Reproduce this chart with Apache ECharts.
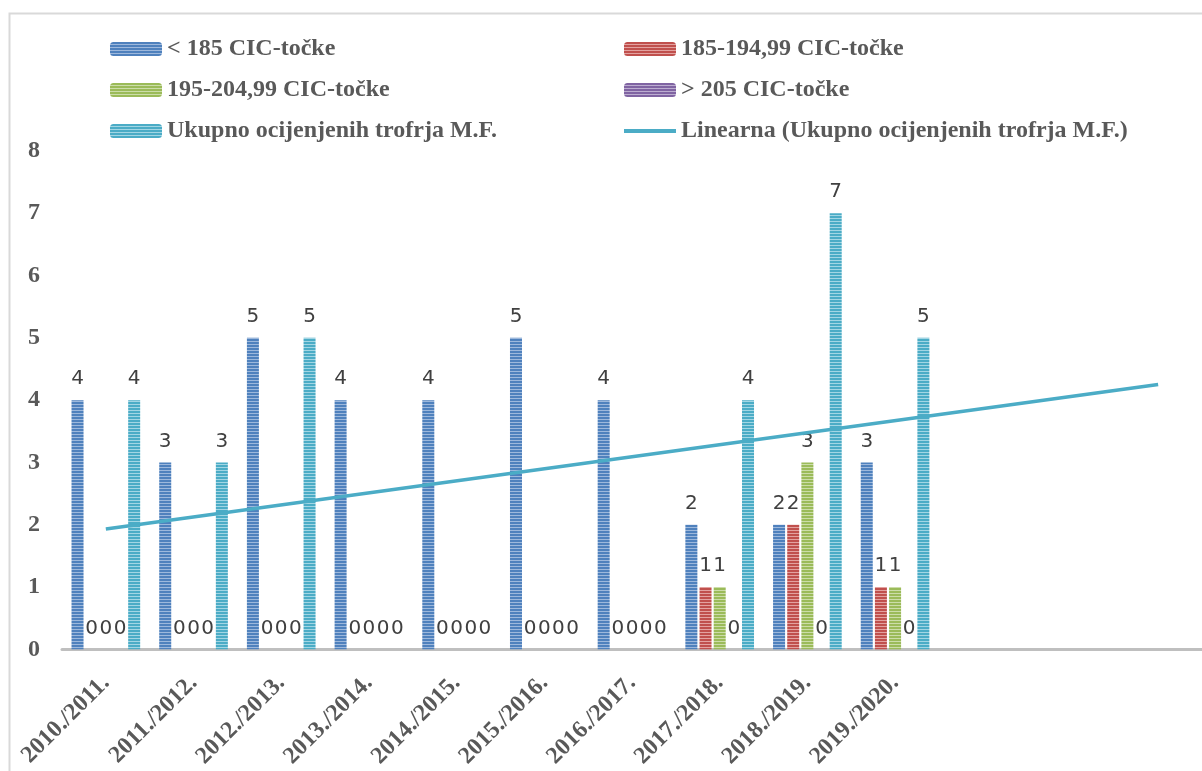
<!DOCTYPE html>
<html>
<head>
<meta charset="utf-8">
<script src="https://cdn.jsdelivr.net/npm/echarts@6/dist/echarts.min.js"></script>
<style>
html,body{margin:0;padding:0;background:#fff;}
#chart{width:1202px;height:771px;}
</style>
</head>
<body>
<div id="chart"></div>
<script>
// ---- data ----
const categories = ['2010./2011.','2011./2012.','2012./2013.','2013./2014.','2014./2015.','2015./2016.','2016./2017.','2017./2018.','2018./2019.','2019./2020.','','',''];
const seriesNames = ['< 185 CIC-točke','185-194,99 CIC-točke','195-204,99 CIC-točke','> 205 CIC-točke','Ukupno ocijenjenih trofrja M.F.'];
const below185 = [4,3,5,4,4,5,4,2,2,3];
const range185 = [0,0,0,0,0,0,0,1,2,1];
const range195 = [0,0,0,0,0,0,0,1,3,1];
const above205 = [0,0,0,0,0,0,0,0,0,0];
const totalMF  = [4,3,5,0,0,0,0,4,7,5];
const trendName = 'Linearna (Ukupno ocijenjenih trofrja M.F.)';
const trendEnds = [1.93, 4.25]; // first category, last (forecast) category
const yTicks = [0,1,2,3,4,5,6,7,8];

// ---- styling helpers ----
function stripes(dark, light){
  const c = document.createElement('canvas');
  c.width = 4; c.height = 3;
  const g = c.getContext('2d');
  g.fillStyle = dark; g.fillRect(0,0,4,2);
  g.fillStyle = light; g.fillRect(0,2,4,1);
  return {image: c, repeat: 'repeat'};
}
const palettes = [
  ['#4F81BD','#9DB8DC'],
  ['#C0504D','#E3A2A0'],
  ['#9BBB59','#CCDDA9'],
  ['#8064A2','#BCADD0'],
  ['#4BACC6','#A2D6E4']
];
const dataSets = [below185, range185, range195, above205, totalMF];

const trendData = categories.map(() => null);
trendData[0] = trendEnds[0];
trendData[categories.length - 1] = trendEnds[1];

const serifBold = {fontFamily:'Liberation Serif', fontWeight:'bold', fontSize:24, color:'#595959'};

const series = dataSets.map((d, i) => ({
  name: seriesNames[i],
  type: 'bar',
  data: d,
  barWidth: 12,
  barGap: '18%',
  itemStyle: {color: stripes(palettes[i][0], palettes[i][1])},
  label: {
    show: true, position: 'top', distance: 11,
    fontFamily: 'DejaVu Sans', fontSize: 20, color: '#404040'
  }
}));
series.push({
  name: trendName,
  type: 'line',
  data: trendData,
  connectNulls: true,
  symbol: 'none',
  lineStyle: {color:'#4BACC6', width: 3.5},
  itemStyle: {color:'#4BACC6'},
  z: 5
});

const chart = echarts.init(document.getElementById('chart'), null, {renderer:'canvas'});
chart.setOption({
  backgroundColor: '#fff',
  animation: false,
  graphic: [{
    type: 'rect', left: 7, top: 11,
    shape: {width: 1400, height: 900},
    style: {fill: 'none', stroke: '#d9d9d9', lineWidth: 2},
    silent: true, z: -1
  }],
  legend: [
    {
      orient: 'vertical', left: 105, top: 32,
      itemWidth: 52, itemHeight: 14, itemGap: 17,
      textStyle: serifBold,
      data: [seriesNames[0], seriesNames[2], seriesNames[4]]
    },
    {
      orient: 'vertical', left: 619, top: 32,
      itemWidth: 52, itemHeight: 14, itemGap: 17,
      textStyle: serifBold,
      data: [seriesNames[1], seriesNames[3], {name: trendName, icon: 'path://M0,0 L52,0 L52,4 L0,4 Z', itemStyle:{color:'#4BACC6'}}]
    }
  ],
  grid: {left: 62, right: -3, top: 151, bottom: 115, containLabel: false},
  xAxis: {
    type: 'category',
    data: categories,
    axisLine: {lineStyle: {color: '#BFBFBF', width: 3}},
    axisTick: {show: false},
    axisLabel: Object.assign({rotate: 45, margin: 30, interval: 0}, serifBold)
  },
  yAxis: {
    type: 'value', min: yTicks[0], max: yTicks[yTicks.length-1], interval: 1,
    axisLine: {show: false}, axisTick: {show: false},
    splitLine: {show: false},
    axisLabel: Object.assign({margin: 22}, serifBold)
  },
  series: series
});
</script>
</body>
</html>
